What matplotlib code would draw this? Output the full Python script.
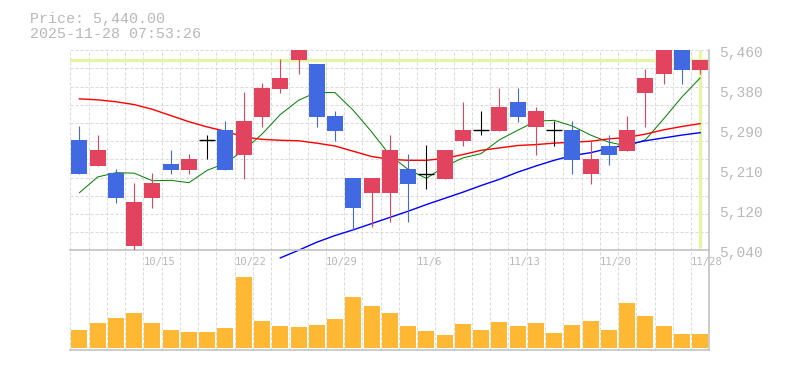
import matplotlib
matplotlib.use("Agg")
import matplotlib.pyplot as plt
import numpy as np
from matplotlib.transforms import offset_copy

plt.rcParams['lines.scale_dashes'] = False

# ---------------- data ----------------
dates = ["10/8", "10/9", "10/10", "10/14", "10/15", "10/16", "10/17", "10/20", "10/21", "10/22",
         "10/23", "10/24", "10/27", "10/28", "10/29", "10/30", "10/31", "11/4", "11/5", "11/6",
         "11/7", "11/10", "11/11", "11/12", "11/13", "11/14", "11/17", "11/18", "11/19", "11/20",
         "11/21", "11/25", "11/26", "11/27", "11/28"]

opens = [5271, 5218, 5202, 5049, 5150, 5221, 5209, 5271, 5292, 5240,
         5320, 5379, 5439, 5431, 5321, 5191, 5160, 5160, 5210, 5201,
         5189, 5270, 5292, 5290, 5351, 5298, 5292, 5292, 5200, 5260,
         5248, 5370, 5410, 5478, 5419]
highs = [5300, 5282, 5210, 5181, 5202, 5250, 5242, 5282, 5311, 5372,
         5391, 5441, 5482, 5431, 5332, 5191, 5191, 5282, 5242, 5261,
         5250, 5351, 5332, 5380, 5380, 5340, 5311, 5311, 5271, 5282,
         5321, 5420, 5490, 5490, 5440]
lows = [5200, 5218, 5139, 5038, 5129, 5200, 5200, 5231, 5209, 5190,
        5299, 5370, 5410, 5298, 5269, 5082, 5088, 5099, 5099, 5168,
        5189, 5258, 5282, 5290, 5309, 5240, 5258, 5200, 5179, 5219,
        5248, 5298, 5389, 5389, 5410]
closes = [5200, 5250, 5150, 5141, 5181, 5209, 5231, 5271, 5209, 5311,
          5380, 5401, 5472, 5319, 5290, 5128, 5191, 5250, 5179, 5201,
          5250, 5292, 5292, 5340, 5319, 5332, 5292, 5229, 5231, 5240,
          5292, 5401, 5476, 5419, 5440]
volumes = [18, 25, 30, 35, 25, 18, 16, 16, 20, 71,
           27, 22, 21, 23, 29, 51, 42, 35, 22, 17,
           13, 24, 18, 26, 22, 25, 15, 23, 27, 18,
           45, 32, 22, 14, 14]

ma_short = [5161, 5194, 5203, 5202, 5186, 5187, 5182, 5208, 5223, 5250,
            5284, 5325, 5355, 5372, 5371, 5334, 5289, 5240, 5210, 5191,
            5216, 5234, 5243, 5272, 5292, 5311, 5313, 5301, 5282, 5267,
            5259, 5272, 5316, 5362, 5402]
ma_mid = [5358, 5356, 5352, 5346, 5336, 5323, 5310, 5299, 5290, 5278,
          5273, 5271, 5270, 5265, 5259, 5248, 5237, 5231, 5229, 5229,
          5233, 5241, 5250, 5255, 5260, 5262, 5265, 5267, 5269, 5274,
          5277, 5284, 5293, 5300, 5306]
ma_long_start = 11
ma_long = [5024, 5040, 5057, 5071, 5083, 5096, 5109, 5122, 5136, 5149,
           5162, 5176, 5189, 5204, 5217, 5229, 5239, 5245, 5254, 5262,
           5270, 5276, 5282, 5287]

tick_labels = ["10/15", "10/22", "10/29", "11/6", "11/13", "11/20", "11/28"]
y_tick_values = [5040, 5124, 5208, 5292, 5376, 5460]
y_tick_labels = ["5,040", "5,120", "5,210", "5,290", "5,380", "5,460"]
last_price = 5440.00
timestamp = "2025-11-28 07:53:26"

# ---------------- style ----------------
W, H = 785, 370
UP = '#e2445f'
DOWN = '#4169e1'
VOLC = '#ffb833'
GRID = '#d9d9d9'
AXC = '#c0c0c0'
TXT = '#b8b8b8'
HL = '#e4f5a6'
PX = 72.0 / 100  # one pixel in points

fig = plt.figure(figsize=(W / 100, H / 100), dpi=100)
L, R = 70.3, 709.3
axv = fig.add_axes([L / W, 1 - 350 / H, (R - L) / W, 99.7 / H])
ax = fig.add_axes([L / W, 1 - 250.3 / H, (R - L) / W, 200 / H])
ax.set_zorder(2)
axv.set_zorder(1)

n = len(dates)
x = np.arange(n)
ymin, ymax = 5040, 5460
for a in (ax, axv):
    a.set_xlim(-0.5, n - 0.5)
    a.set_xticks([])
    a.set_yticks([])
    for s in ('left', 'top'):
        a.spines[s].set_visible(False)
    for s in ('bottom', 'right'):
        a.spines[s].set_color(AXC)
        a.spines[s].set_linewidth(1.6 * PX)
    a.patch.set_alpha(0)
    for k in range(n):
        a.axvline(k - 0.5, color=GRID, lw=1 * PX, linestyle=(0, (3 * PX, 2 * PX)),
                  zorder=0.5, clip_on=False)
ax.set_ylim(ymin, ymax)
for gy in np.linspace(ymin, ymax, 12)[1:]:
    ax.axhline(gy, color=GRID, lw=1 * PX, linestyle=(0, (3 * PX, 2 * PX)), zorder=0.5,
               clip_on=False)

# current price highlight
ax.axhline(last_price, color=HL, lw=3.3 * PX, zorder=1)
ax.vlines(n - 1, ymin + 2.3 * 2.1, ymax, color=HL, lw=3.3 * PX, zorder=1)

# moving averages
ax.plot(x, ma_short, color='#008000', lw=1.0 * PX, zorder=2)
ax.plot(x, ma_mid, color='#ff0000', lw=1.4 * PX, zorder=2)
ax.plot(x[ma_long_start:], ma_long, color='#0000ff', lw=1.4 * PX, zorder=2, clip_on=False)

# candles
bw = 0.876
o = np.array(opens); c = np.array(closes); h = np.array(highs); lo = np.array(lows)
cols = []
for i in range(n):
    if c[i] > o[i]:
        cols.append(UP)
    elif c[i] < o[i]:
        cols.append(DOWN)
    else:
        cols.append('black')
ax.vlines(x, lo, h, colors=cols, lw=1.1 * PX, zorder=3)
body = np.abs(c - o)
mask = body > 0
ax.bar(x[mask], body[mask], bottom=np.minimum(o, c)[mask], width=bw,
       color=[cols[i] for i in range(n) if mask[i]], linewidth=0, zorder=4)
for i in range(n):
    if not mask[i]:
        ax.hlines(c[i], i - bw / 2, i + bw / 2, color='black', lw=1.4 * PX, zorder=4)

# volume
axv.set_ylim(-2.3, 97.4)
axv.bar(x, volumes, width=bw, color=VOLC, linewidth=0, zorder=3)

# date labels (left aligned at left grid line of the day)
for lab in tick_labels:
    i = dates.index(lab)
    axv.text(i - 0.5, 1 - 12.2 / 99.7, lab, transform=axv.get_xaxis_transform(),
             ha='left', va='center', color=TXT, fontsize=7.6,
             family='DejaVu Sans Mono', zorder=5)

# price labels on right
tr = offset_copy(ax.get_yaxis_transform(), fig=fig, x=(719 - R) * PX, y=-2.5 * PX, units='points')
for v, lab in zip(y_tick_values, y_tick_labels):
    ax.text(1.0, v, lab, transform=tr, ha='left', va='center', color=TXT,
            fontsize=10.5, family='Liberation Mono', clip_on=False)

# header
fig.text(29.5 / W, 1 - 22.7 / H, f"Price: {last_price:,.2f}", ha='left', va='baseline',
         color=TXT, fontsize=10.8, family='Liberation Mono')
fig.text(29.5 / W, 1 - 37.7 / H, timestamp, ha='left', va='baseline',
         color=TXT, fontsize=10.8, family='Liberation Mono')

fig.savefig('out.png', dpi=100, facecolor='white')
